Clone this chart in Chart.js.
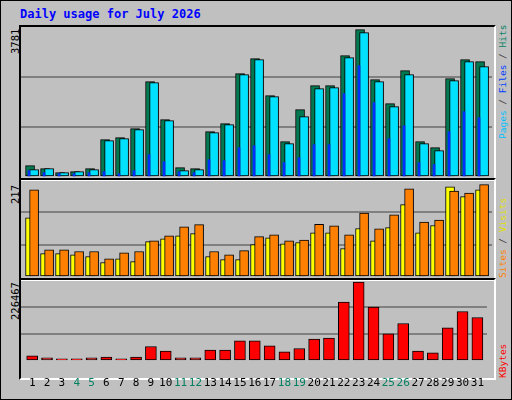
<!DOCTYPE html>
<html>
<head>
<meta charset="utf-8">
<script src="https://cdn.jsdelivr.net/npm/chart.js@4"></script>
<style>
  body { margin: 0; background: #c0c0c0; }
  #box { position: absolute; left: 0; top: 0; width: 510px; height: 398px; border: 1px solid #000; background: #c0c0c0; overflow: hidden; }
  .panel { position: absolute; border-top: 2px solid #000; border-left: 2px solid #000; border-right: 2px solid #fff; border-bottom: 2px solid #fff; }
  .panel canvas { display: block; }
  .rot { position: absolute; font-family: "DejaVu Sans Mono", monospace; font-size: 9.5px; line-height: 11px; white-space: nowrap; transform-origin: 0 0; transform: rotate(-90deg); }
  #title { position: absolute; left: 19px; top: 6px; font: bold 12px "DejaVu Sans Mono", monospace; color: #0000ff; }
</style>
</head>
<body>
<div id="box">
  <div id="title">Daily usage for July 2026</div>
  <div class="panel" style="left:18px;top:24px;width:473px;height:152px"><canvas id="c1"></canvas></div>
  <div class="panel" style="left:18px;top:177px;width:473px;height:99px"><canvas id="c2"></canvas></div>
  <div class="panel" style="left:18px;top:277px;width:473px;height:98px"></div>
  <canvas id="c3" style="position:absolute;left:20px;top:279px"></canvas>

  <div class="rot" style="left:9px;top:53px;font-size:10.5px">3781</div>
  <div class="rot" style="left:9px;top:203px;font-size:10.5px">217</div>
  <div class="rot" style="left:9px;top:319px;font-size:10.5px">226467</div>

  <div class="rot" style="left:496px;top:138px"><span style="color:#00c0ff">Pages</span><span style="color:#404040"> / </span><span style="color:#0040ff">Files</span><span style="color:#404040"> / </span><span style="color:#008060">Hits</span></div>
  <div class="rot" style="left:496px;top:277px"><span style="color:#ff8000">Sites</span><span style="color:#404040"> / </span><span style="color:#e0e000">Visits</span></div>
  <div class="rot" style="left:496px;top:377px"><span style="color:#ff0000">KBytes</span></div>
</div>
<script>
const days = Array.from({ length: 31 }, (_, i) => i + 1);
const weekend = [4, 5, 11, 12, 18, 19, 25, 26];

const hits = [291, 214, 111, 137, 214, 958, 1009, 1240, 2445, 1470, 240, 214, 1163, 1368, 2650, 3035,
  2086, 906, 1727, 2343, 2343, 3112, 3781, 2497, 1881, 2727, 906, 752, 2522, 3010, 2958];
const files = [188, 214, 111, 137, 188, 932, 983, 1214, 2420, 1445, 162, 188, 1137, 1342, 2625, 3010,
  2060, 855, 1548, 2266, 2291, 3061, 3702, 2445, 1804, 2625, 855, 675, 2471, 2958, 2830];
const pages = [162, 111, 85, 85, 111, 137, 85, 162, 573, 393, 137, 111, 445, 419, 752, 804,
  573, 368, 496, 829, 829, 2137, 2856, 1907, 983, 1317, 368, 316, 1163, 1676, 1522];

const sites = [139, 55, 55, 52, 48, 34, 43, 36, 83, 90, 97, 102, 48, 41, 41, 76,
  92, 78, 81, 104, 104, 67, 114, 85, 116, 170, 104, 121, 212, 189, 205];
const visits = [205, 64, 64, 60, 60, 43, 57, 60, 85, 97, 118, 123, 60, 52, 62, 95,
  99, 85, 87, 124, 120, 99, 150, 113, 146, 207, 129, 134, 202, 197, 217];

const kbytes = [14000, 8235, 5765, 5765, 8235, 10700, 5765, 10700, 41200, 28000, 8235, 8235, 30470, 30470, 57650, 57650,
  42820, 25530, 35410, 62590, 65060, 168800, 226467, 154000, 77400, 107050, 28000, 23060, 94700, 141640, 124350];

const pts = (vals, shift) => vals.map((v, i) => ({ x: days[i] + shift, y: v }));

function bar(data, color, width, border) {
  return { data, backgroundColor: color, borderColor: '#000', borderWidth: border, barThickness: width, grouped: false, borderSkipped: false };
}

function yAxis(max) {
  return {
    min: 0, max: max,
    afterBuildTicks: s => { s.ticks = [0, max / 3, 2 * max / 3, max].map(v => ({ value: v })); },
    ticks: { display: false },
    border: { display: false },
    grid: { color: c => (c.index === 1 || c.index === 2) ? '#808080' : 'rgba(0,0,0,0)', lineWidth: 2, drawTicks: false }
  };
}

const xHidden = { type: 'linear', min: 0.247, max: 31.647, offset: false, display: false };

const base = {
  responsive: false,
  animation: false,
  plugins: { legend: { display: false }, tooltip: { enabled: false } },
  layout: { padding: 0 }
};

function make(id, w, h, datasets, scales) {
  const c = document.getElementById(id);
  c.width = w; c.height = h;
  return new Chart(c, { type: 'bar', data: { datasets }, options: Object.assign({}, base, { scales }) });
}

// first dataset is painted on top
make('c1', 471, 150, [
  bar(pts(pages, -0.22), '#0030ff', 2, 0),
  bar(pts(files, 0.12), '#00e0ff', 9, 1),
  bar(pts(hits, -0.15), '#007850', 9, 1)
], { x: xHidden, y: yAxis(3848) });

make('c2', 471, 97, [
  bar(pts(visits, 0.12), '#ff8000', 9, 1),
  bar(pts(sites, -0.15), '#ffff00', 9, 1)
], { x: xHidden, y: yAxis(228) });

make('c3', 471, 118, [
  bar(pts(kbytes, 0), '#ff0000', 11, 1)
], {
  x: {
    type: 'linear', min: 0.247, max: 31.647, offset: false,
    afterBuildTicks: s => { s.ticks = days.map(d => ({ value: d })); },
    grid: { display: false },
    border: { display: false },
    ticks: {
      autoSkip: false, maxRotation: 0, padding: 8,
      font: { family: 'DejaVu Sans Mono', size: 11 },
      color: c => weekend.includes(c.tick.value) ? '#008060' : '#000',
      callback: v => String(v)
    }
  },
  y: yAxis(232150)
});
</script>
</body>
</html>
